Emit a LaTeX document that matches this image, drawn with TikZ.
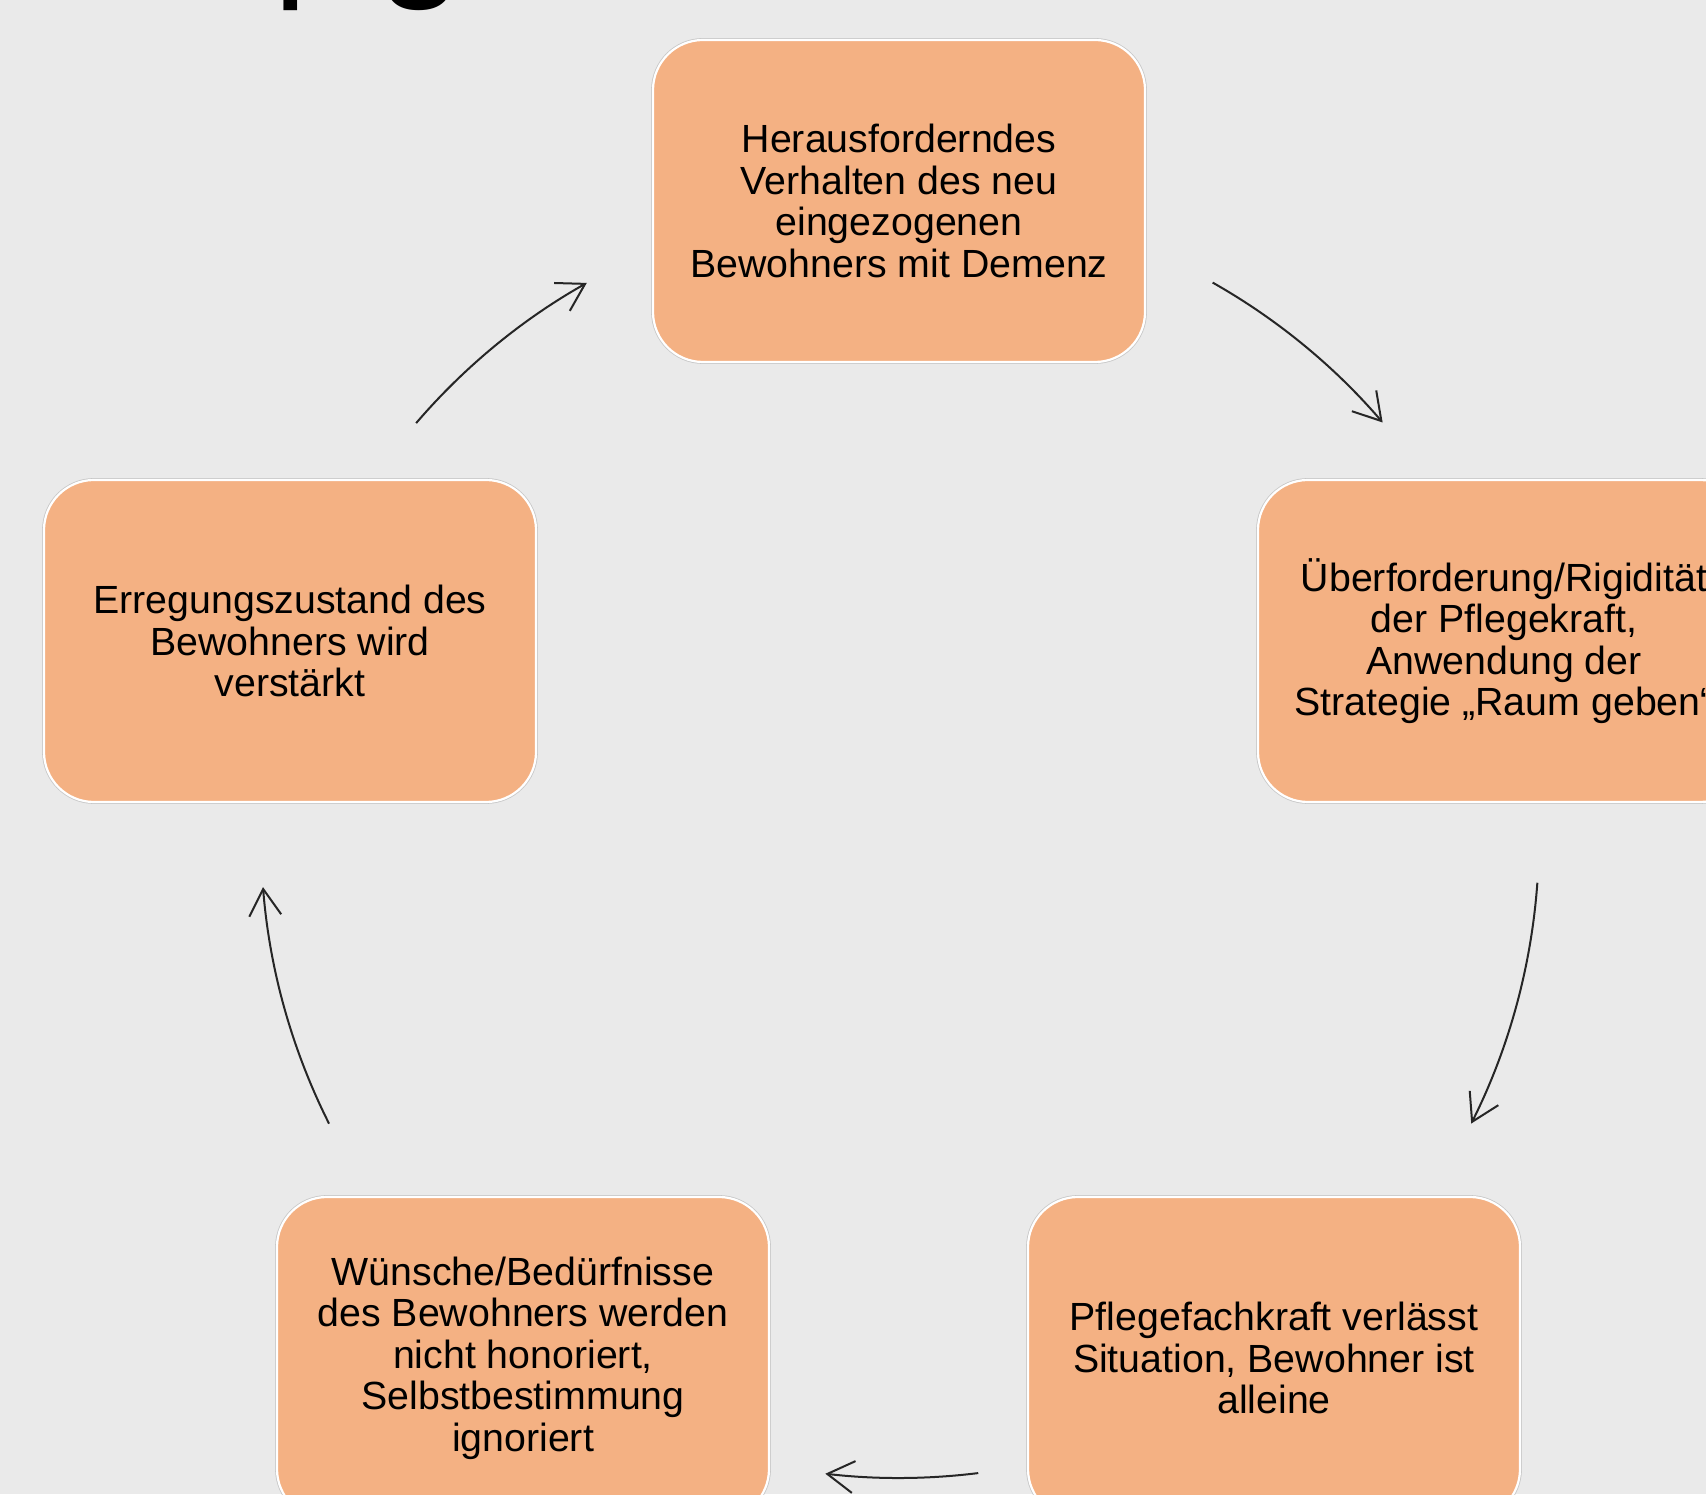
\documentclass[tikz,border=0pt]{standalone}
\usepackage{fontspec}
\setmainfont{Liberation Sans}
\usetikzlibrary{arrows.meta}
\definecolor{bg}{HTML}{EAEAEA}
\definecolor{peach}{HTML}{F4B183}
\begin{document}
\begin{tikzpicture}[x=0.5pt,y=0.5pt,
  cyclebox/.style={rectangle, rounded corners=25pt, fill=peach, draw=white, line width=1.1pt,
    preaction={draw=black!22, line width=1.9pt},
    minimum width=246pt, minimum height=161pt, inner sep=0pt, align=center,
    font=\fontsize{19.65pt}{20.75pt}\selectfont, text=black},
  cyclearrow/.style={draw=black!85, line width=1pt, -{Straight Barb[length=13.3pt,width=16pt]}},
  titlefrag/.style={inner sep=0pt, anchor=base west, font=\fontsize{77.5pt}{80pt}\selectfont}]
\useasboundingbox (0,0) rectangle (1706,1494);
\fill[bg] (0,0) rectangle (1706,1494);

% fragments of the cut-off title
\node[titlefrag] (tp) at (273,1515.6) {p};
\node[titlefrag] (tg) at (377,1515.6) {g};

% boxes
\node[cyclebox] (A) at (899,1293) {Herausforderndes\\Verhalten des neu\\eingezogenen\\Bewohners mit Demenz};
\node[cyclebox] (B) at (1504,853) {Überforderung/Rigidität\\der Pflegekraft,\\Anwendung der\\Strategie „Raum geben“};
\node[cyclebox] (C) at (1274,136) {Pflegefachkraft verlässt\\Situation, Bewohner ist\\alleine};
\node[cyclebox] (D) at (523,136) {Wünsche/Bedürfnisse\\des Bewohners werden\\nicht honoriert,\\Selbstbestimmung\\ignoriert};
\node[cyclebox] (E) at (290,853) {Erregungszustand des\\Bewohners wird\\verstärkt};

% circle centre and arrow start points
\coordinate (O) at (899,657);
\coordinate (s1) at ([shift={(60.5:318.5pt)}]O);
\coordinate (s2) at ([shift={(-4.1:320pt)}]O);
\coordinate (s3) at ([shift={(-82.9:320.5pt)}]O);
\coordinate (s4) at ([shift={(206.7:319pt)}]O);
\coordinate (s5) at ([shift={(139.4:318pt)}]O);

\draw[cyclearrow] (s1) arc[start angle=60.5, end angle=40.6, radius=318.5pt];
\draw[cyclearrow] (s2) arc[start angle=-4.1, end angle=-26.6, radius=320pt];
\draw[cyclearrow] (s3) arc[start angle=-82.9, end angle=-96.6, radius=320.5pt];
\draw[cyclearrow] (s4) arc[start angle=206.7, end angle=184.5, radius=319pt];
\draw[cyclearrow] (s5) arc[start angle=139.4, end angle=119.4, radius=318pt];
\end{tikzpicture}
\end{document}
